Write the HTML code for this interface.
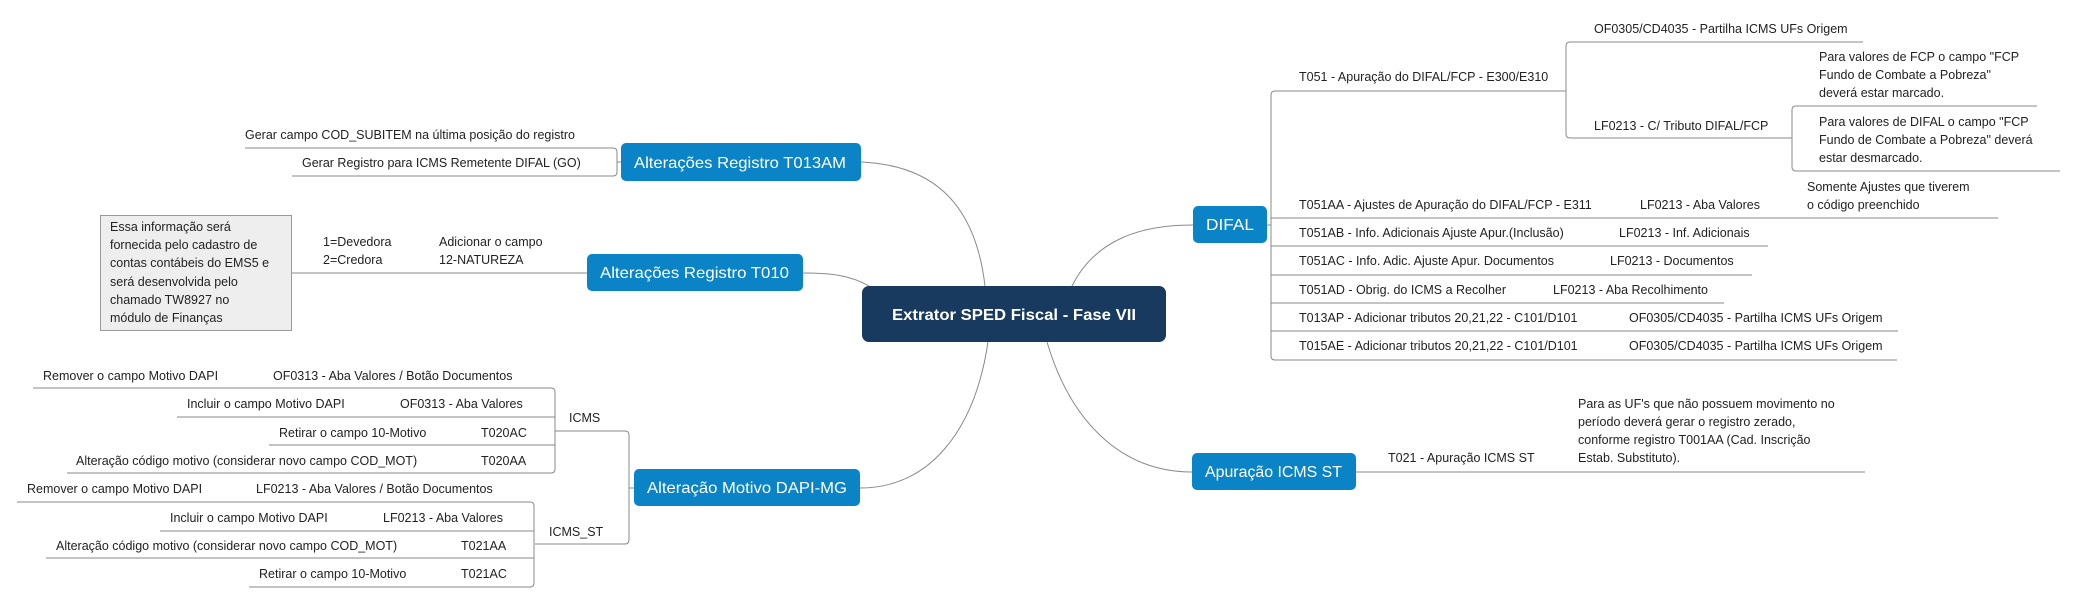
<!DOCTYPE html>
<html><head><meta charset="utf-8"><style>
html,body{margin:0;padding:0;background:#fff;width:2077px;height:596px;overflow:hidden}
svg{display:block}
text{font-family:"Liberation Sans",sans-serif;font-size:12.5px;fill:#222}
.n{fill:#fff;font-size:16px}
</style></head><body>
<svg width="2077" height="596" viewBox="0 0 2077 596" xmlns="http://www.w3.org/2000/svg">
<g fill="none" stroke="#8a8a8a" stroke-width="1">
<!-- curves from center -->
<path d="M985,286 C975,200 930,165 861,162"/>
<path d="M869,286 C850,275 830,273 803,273"/>
<path d="M988,342 C975,430 930,488 860,488"/>
<path d="M1072,286 C1095,240 1140,225 1193,225"/>
<path d="M1047,342 C1070,420 1120,472 1192,472"/>
<!-- T013AM -->
<path d="M245,148 H613 Q617,148 617,152 V172 Q617,176 613,176 H292"/>
<path d="M617,162 H621"/>
<!-- T010 -->
<path d="M291,273 H587"/>
<!-- DAPI -->
<path d="M555,431 H625 Q629,431 629,435 V540 Q629,544 625,544 H535"/>
<path d="M629,488 H634"/>
<path d="M33,388 H551 Q555,388 555,392 V469 Q555,473 551,473 H67"/>
<path d="M177,417 H555 M269,445 H555"/>
<path d="M17,502 H530 Q534,502 534,506 V583 Q534,587 530,587 H249"/>
<path d="M160,531 H534 M46,558 H534"/>
<!-- DIFAL -->
<path d="M1267,225 H1271"/>
<path d="M1566,91 H1275 Q1271,91 1271,95 V356 Q1271,360 1275,360 H1897"/>
<path d="M1271,218 H1998 M1271,246 H1768 M1271,275 H1752 M1271,303 H1724 M1271,331 H1898"/>
<path d="M1863,42 H1570 Q1566,42 1566,46 V134 Q1566,138 1570,138 H1792"/>
<path d="M2037,106 H1796 Q1792,106 1792,110 V167 Q1792,171 1796,171 H2060"/>
<!-- Apuracao -->
<path d="M1356,472 H1865"/>
</g>
<!-- nodes -->
<rect x="862" y="286" width="304" height="56" rx="7" fill="#173a5e"/>
<text x="1014" y="320" text-anchor="middle" style="fill:#fff;font-size:16px;font-weight:bold" textLength="244" lengthAdjust="spacingAndGlyphs">Extrator SPED Fiscal - Fase VII</text>
<rect x="621" y="143" width="240" height="38" rx="5" fill="#0a84c6"/>
<text class="n" x="634" y="168" textLength="212" lengthAdjust="spacingAndGlyphs">Alterações Registro T013AM</text>
<rect x="587" y="254" width="216" height="37" rx="5" fill="#0a84c6"/>
<text class="n" x="600" y="278" textLength="189" lengthAdjust="spacingAndGlyphs">Alterações Registro T010</text>
<rect x="634" y="469" width="226" height="37" rx="5" fill="#0a84c6"/>
<text class="n" x="647" y="493" textLength="200" lengthAdjust="spacingAndGlyphs">Alteração Motivo DAPI-MG</text>
<rect x="1193" y="206" width="74" height="37" rx="5" fill="#0a84c6"/>
<text class="n" x="1206" y="230" textLength="48" lengthAdjust="spacingAndGlyphs">DIFAL</text>
<rect x="1192" y="453" width="164" height="37" rx="5" fill="#0a84c6"/>
<text class="n" x="1205" y="477" textLength="137" lengthAdjust="spacingAndGlyphs">Apuração ICMS ST</text>
<!-- note box -->
<rect x="100.5" y="215.5" width="191" height="115" fill="#eeeeee" stroke="#999"/>
<g>
<text x="110" y="231">Essa informação será</text>
<text x="110" y="249">fornecida pelo cadastro de</text>
<text x="110" y="267">contas contábeis do EMS5 e</text>
<text x="110" y="286">será desenvolvida pelo</text>
<text x="110" y="304">chamado TW8927 no</text>
<text x="110" y="322">módulo de Finanças</text>
<!-- left texts -->
<text x="245" y="139">Gerar campo COD_SUBITEM na última posição do registro</text>
<text x="302" y="167">Gerar Registro para ICMS Remetente DIFAL (GO)</text>
<text x="323" y="246">1=Devedora</text>
<text x="323" y="264">2=Credora</text>
<text x="439" y="246">Adicionar o campo</text>
<text x="439" y="264">12-NATUREZA</text>
<text x="569" y="422">ICMS</text>
<text x="549" y="536">ICMS_ST</text>
<text x="43" y="380">Remover o campo Motivo DAPI</text>
<text x="273" y="380">OF0313 - Aba Valores / Botão Documentos</text>
<text x="187" y="408">Incluir o campo Motivo DAPI</text>
<text x="400" y="408">OF0313 - Aba Valores</text>
<text x="279" y="437">Retirar o campo 10-Motivo</text>
<text x="481" y="437">T020AC</text>
<text x="76" y="465">Alteração código motivo (considerar novo campo COD_MOT)</text>
<text x="481" y="465">T020AA</text>
<text x="27" y="493">Remover o campo Motivo DAPI</text>
<text x="256" y="493">LF0213 - Aba Valores / Botão Documentos</text>
<text x="170" y="522">Incluir o campo Motivo DAPI</text>
<text x="383" y="522">LF0213 - Aba Valores</text>
<text x="56" y="550">Alteração código motivo (considerar novo campo COD_MOT)</text>
<text x="461" y="550">T021AA</text>
<text x="259" y="578">Retirar o campo 10-Motivo</text>
<text x="461" y="578">T021AC</text>
<!-- right texts -->
<text x="1299" y="81">T051 - Apuração do DIFAL/FCP - E300/E310</text>
<text x="1594" y="33">OF0305/CD4035 - Partilha ICMS UFs Origem</text>
<text x="1594" y="130">LF0213 - C/ Tributo DIFAL/FCP</text>
<text x="1819" y="61">Para valores de FCP o campo "FCP</text>
<text x="1819" y="79">Fundo de Combate a Pobreza"</text>
<text x="1819" y="97">deverá estar marcado.</text>
<text x="1819" y="126">Para valores de DIFAL o campo "FCP</text>
<text x="1819" y="144">Fundo de Combate a Pobreza" deverá</text>
<text x="1819" y="162">estar desmarcado.</text>
<text x="1299" y="209">T051AA - Ajustes de Apuração do DIFAL/FCP - E311</text>
<text x="1640" y="209">LF0213 - Aba Valores</text>
<text x="1807" y="191">Somente Ajustes que tiverem</text>
<text x="1807" y="209">o código preenchido</text>
<text x="1299" y="237">T051AB - Info. Adicionais Ajuste Apur.(Inclusão)</text>
<text x="1619" y="237">LF0213 - Inf. Adicionais</text>
<text x="1299" y="265">T051AC - Info. Adic. Ajuste Apur. Documentos</text>
<text x="1610" y="265">LF0213 - Documentos</text>
<text x="1299" y="294">T051AD - Obrig. do ICMS a Recolher</text>
<text x="1553" y="294">LF0213 - Aba Recolhimento</text>
<text x="1299" y="322">T013AP - Adicionar tributos 20,21,22 - C101/D101</text>
<text x="1629" y="322">OF0305/CD4035 - Partilha ICMS UFs Origem</text>
<text x="1299" y="350">T015AE - Adicionar tributos 20,21,22 - C101/D101</text>
<text x="1629" y="350">OF0305/CD4035 - Partilha ICMS UFs Origem</text>
<text x="1388" y="462">T021 - Apuração ICMS ST</text>
<text x="1578" y="408">Para as UF's que não possuem movimento no</text>
<text x="1578" y="426">período deverá gerar o registro zerado,</text>
<text x="1578" y="444">conforme registro T001AA (Cad. Inscrição</text>
<text x="1578" y="462">Estab. Substituto).</text>
</g>
</svg>
</body></html>
